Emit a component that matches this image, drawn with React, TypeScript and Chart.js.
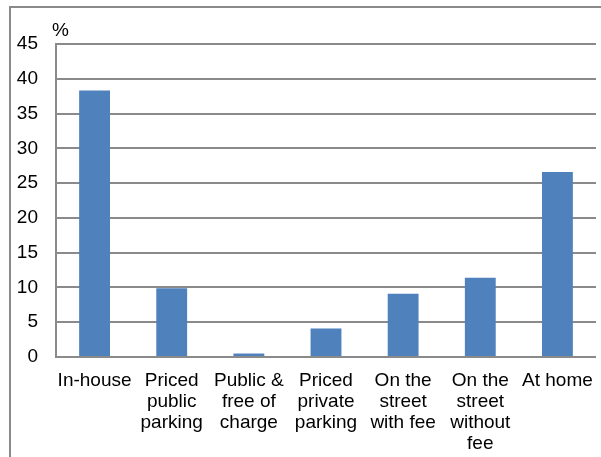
import React, { useEffect, useRef } from "react";
import { Chart, registerables } from "chart.js";

Chart.register(...registerables);

const categories: (string | string[])[] = [
  "In-house",
  ["Priced", "public", "parking"],
  ["Public &", "free of", "charge"],
  ["Priced", "private", "parking"],
  ["On the", "street", "with fee"],
  ["On the", "street", "without", "fee"],
  "At home",
];
const values: number[] = [38.3, 9.9, 0.5, 4.1, 9.1, 11.4, 26.6];
const yMin = 0;
const yMax = 45;
const yStep = 5;
const axisUnit = "%";

const FONT = "'Liberation Sans', Arial, sans-serif";
const GRID = "#8a8a8a";

const framePlugin = {
  id: "frameAndUnit",
  beforeDraw(chart: any) {
    const ctx = chart.ctx;
    ctx.save();
    ctx.fillStyle = "#ffffff";
    ctx.fillRect(0, 0, chart.width, chart.height);
    ctx.strokeStyle = GRID;
    ctx.lineWidth = 2;
    ctx.beginPath();
    ctx.moveTo(10, chart.height);
    ctx.lineTo(10, 7);
    ctx.lineTo(chart.width, 7);
    ctx.stroke();
    ctx.restore();
  },
  afterDraw(chart: any) {
    const ctx = chart.ctx;
    const area = chart.chartArea;
    ctx.save();
    ctx.fillStyle = "#000";
    ctx.font = `19px ${FONT}`;
    ctx.textAlign = "center";
    ctx.textBaseline = "middle";
    ctx.fillText(axisUnit, area.left + 4.5, area.top - 13);
    ctx.restore();
  },
};

export default function App() {
  const canvasRef = useRef<HTMLCanvasElement | null>(null);

  useEffect(() => {
    if (!canvasRef.current) return;
    const chart = new Chart(canvasRef.current, {
      type: "bar",
      data: {
        labels: categories,
        datasets: [
          {
            data: values,
            backgroundColor: "#4F81BD",
            borderWidth: 0,
            barPercentage: 0.4,
            categoryPercentage: 1,
          },
        ],
      },
      options: {
        animation: false,
        responsive: false,
        devicePixelRatio: 1,
        layout: { autoPadding: false, padding: { left: 0, top: 44, right: 5, bottom: 0 } },
        plugins: {
          legend: { display: false },
          tooltip: { enabled: false },
          title: { display: false },
        },
        scales: {
          x: {
            grid: { display: false, drawTicks: false },
            border: { display: false },
            ticks: {
              color: "#000",
              font: { family: FONT, size: 19, lineHeight: 21 / 19 },
              padding: 13,
              maxRotation: 0,
              autoSkip: false,
            },
            afterFit: (scale: any) => {
              scale.height = 100;
              scale.paddingLeft = 0;
              scale.paddingRight = 0;
            },
          },
          y: {
            min: yMin,
            max: yMax,
            grid: { color: GRID, lineWidth: 2, drawTicks: false },
            border: { display: true, color: GRID, width: 2 },
            ticks: {
              stepSize: yStep,
              color: "#000",
              font: { family: FONT, size: 19 },
              padding: 18,
            },
            afterFit: (scale: any) => {
              scale.width = 56;
              scale.paddingTop = 0;
              scale.paddingBottom = 0;
            },
          },
        },
      },
      plugins: [framePlugin],
    });
    return () => chart.destroy();
  }, []);

  return (
    <div style={{ position: "absolute", left: 0, top: 0, width: 601, height: 457, background: "#fff" }}>
      <canvas ref={canvasRef} width={601} height={457} style={{ display: "block" }} />
    </div>
  );
}
